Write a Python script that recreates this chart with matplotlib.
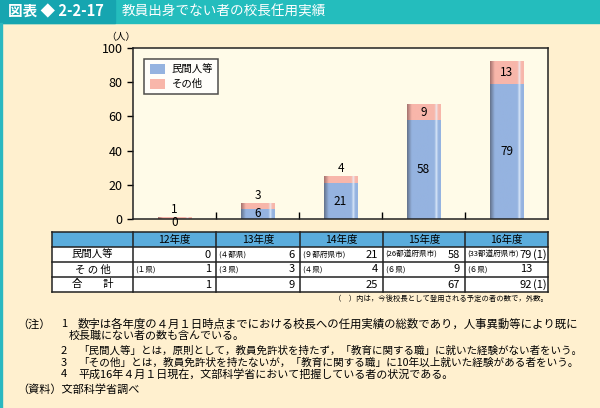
import matplotlib.pyplot as plt
import matplotlib.patches as mpatches
import numpy as np

plt.rcParams['font.family'] = ['Noto Sans CJK JP', 'DejaVu Sans']

years = ['12年度', '13年度', '14年度', '15年度', '16年度']
private = [0, 6, 21, 58, 79]
other = [1, 3, 4, 9, 13]
total = [1, 9, 25, 67, 92]
private_pref = ['', '(４都県)', '(９都府県市)', '(26都道府県市)', '(33都道府県市)']
other_pref = ['(１県)', '(３県)', '(４県)', '(６県)', '(６県)']
extra = ['', '', '', '', '(1)']
row_names = ['民間人等', 'そ の 他', '合　　計']
notes = [
    ('（注）', '1', '数字は各年度の４月１日時点までにおける校長への任用実績の総数であり，人事異動等により既に'),
    ('', '', '校長職にない者の数も含んでいる。'),
    ('', '2', '「民間人等」とは，原則として，教員免許状を持たず，「教育に関する職」に就いた経験がない者をいう。'),
    ('', '3', '「その他」とは，教員免許状を持たないが，「教育に関する職」に10年以上就いた経験がある者をいう。'),
    ('', '4', '平成16年４月１日現在，文部科学省において把握している者の状況である。'),
]
source = '（資料）文部科学省調べ'

W, H = 600, 408
fig = plt.figure(figsize=(W / 100, H / 100), dpi=100)
fig.patch.set_facecolor('#FFF0CF')

# pixel overlay
bg = fig.add_axes([0, 0, 1, 1])
bg.set_xlim(0, W)
bg.set_ylim(H, 0)
bg.axis('off')

bg.add_patch(mpatches.Rectangle((0, 0), W, 23, color='#24BDBD', zorder=1))
bg.add_patch(mpatches.Rectangle((0, 0), 115, 23, color='#16A5B0', zorder=2))
bg.add_patch(mpatches.Rectangle((0, 23), 2, H, color='#2AB8C0', zorder=2))
bg.text(8, 11.5, '図表 ◆ 2-2-17', color='white', fontsize=10.5, fontweight='bold',
        va='center', ha='left', zorder=3)
bg.text(122, 11.5, '教員出身でない者の校長任用実績', color='white', fontsize=9.8,
        va='center', ha='left', zorder=3)
bg.text(106, 37, '（人）', fontsize=7, va='center', ha='left')

# chart
ax_l, ax_r, ax_t, ax_b = 133, 548, 48, 219
ax = fig.add_axes([ax_l / W, 1 - ax_b / H, (ax_r - ax_l) / W, (ax_b - ax_t) / H])
ax.set_facecolor('#FFFBE8')
x = np.arange(len(years))
bw = 0.4
blue = np.array([149, 179, 224]) / 255
pink = np.array([248, 182, 170]) / 255
b1 = ax.bar(x, private, bw, color=blue, zorder=2)
b2 = ax.bar(x, other, bw, bottom=private, color=pink, zorder=2)


def shade(patch, base, dark):
    x0, y0 = patch.get_x(), patch.get_y()
    w, h = patch.get_width(), patch.get_height()
    if h <= 0:
        return
    t = np.linspace(0, 1, 80)
    dk = np.clip(1 - t / 0.14, 0, 1)
    hl = np.exp(-((t - 0.87) / 0.035) ** 2)
    col = base[None, :] * (1 - dk[:, None]) + dark[None, :] * dk[:, None]
    col = col * (1 - 0.75 * hl[:, None]) + np.array([0.92, 0.96, 1.0])[None, :] * 0.75 * hl[:, None]
    img = np.repeat(col[None, :, :], 2, axis=0)
    ax.imshow(img, extent=[x0, x0 + w, y0, y0 + h], aspect='auto', zorder=2.5,
              interpolation='bilinear')


for p in b1:
    shade(p, blue, np.array([100, 115, 140]) / 255)
for p in b2:
    shade(p, pink, np.array([165, 115, 110]) / 255)

for i in range(len(years)):
    if private[i] >= 5:
        ax.text(x[i], private[i] / 2, str(private[i]), ha='center', va='center',
                fontsize=8.5, zorder=4)
    else:
        ax.text(x[i], -2.2, str(private[i]), ha='center', va='center', fontsize=8.5,
                zorder=4, clip_on=False)
    if other[i] >= 8:
        ax.text(x[i], private[i] + other[i] / 2, str(other[i]), ha='center',
                va='center', fontsize=8.5, zorder=4)
    else:
        ax.text(x[i], total[i] + 1.0, str(other[i]), ha='center', va='bottom',
                fontsize=8.5, zorder=4)

ax.set_xlim(-0.5, len(years) - 0.5)
ax.set_ylim(0, 100)
ax.set_yticks(range(0, 101, 20))
ax.tick_params(axis='y', direction='out', length=4, labelsize=9, width=1)
ax.set_xticks(x[:-1] + 0.5)
ax.set_xticklabels([])
ax.tick_params(axis='x', direction='in', length=5, width=1)
for s in ax.spines.values():
    s.set_linewidth(1.1)
    s.set_color('#222222')

leg = ax.legend([b1, b2], ['民間人等', 'その他'], loc='upper left',
                bbox_to_anchor=(0.015, 0.965), fontsize=7.5, frameon=True,
                fancybox=False, edgecolor='#222222', handlelength=1.5,
                handleheight=1.1, borderpad=0.5, labelspacing=0.35,
                handletextpad=0.6)
leg.get_frame().set_linewidth(1.1)
leg.get_frame().set_facecolor('white')

# table
tl, tr = 52, 548
col_edges = [tl, 133, 216, 300, 383, 465, 548]
row_edges = [232, 247, 262, 277, 292]
bg.add_patch(mpatches.Rectangle((tl, row_edges[0]), tr - tl, row_edges[1] - row_edges[0],
                                facecolor='#5AACDC', edgecolor='none', zorder=2))
bg.add_patch(mpatches.Rectangle((tl, row_edges[1]), tr - tl, row_edges[-1] - row_edges[1],
                                facecolor='white', edgecolor='none', zorder=2))
for xe in col_edges:
    bg.plot([xe, xe], [row_edges[0], row_edges[-1]], color='#222222', lw=1.1, zorder=3)
for ye in row_edges:
    bg.plot([tl, tr], [ye, ye], color='#222222', lw=1.1, zorder=3)

for j, yname in enumerate(years):
    cx = (col_edges[j + 1] + col_edges[j + 2]) / 2
    bg.text(cx, (row_edges[0] + row_edges[1]) / 2, yname, ha='center', va='center',
            fontsize=7.5, zorder=4)

rows = [(private, private_pref), (other, other_pref), (total, [''] * 5)]
for r, (vals, prefs) in enumerate(rows):
    yc = (row_edges[r + 1] + row_edges[r + 2]) / 2
    bg.text((col_edges[0] + col_edges[1]) / 2, yc, row_names[r], ha='center',
            va='center', fontsize=7.5, zorder=4)
    for j in range(len(years)):
        left = col_edges[j + 1]
        right = col_edges[j + 2]
        if prefs[j]:
            bg.text(left + 2, yc, prefs[j], ha='left', va='center', fontsize=5.5, zorder=4)
        rx = right - 5
        if j == len(years) - 1:
            rx = right - 16
            if r != 1:
                bg.text(rx + 0.5, yc, extra[j], ha='left', va='center', fontsize=8, zorder=4)
        bg.text(rx, yc, str(vals[j]), ha='right', va='center', fontsize=8, zorder=4)

bg.text(548, 299, '（　）内は，今後校長として登用される予定の者の数で，外数。',
        ha='right', va='center', fontsize=5.3, zorder=4)

# notes: each line scaled so its right end lands where the reference's does
renderer = fig.canvas.get_renderer()


def fit_text(x0, y0, s, right, size=8):
    t = bg.text(x0, y0, s, ha='left', va='center', fontsize=size)
    w = t.get_window_extent(renderer).width
    t.set_fontsize(min(size * (right - x0) / w, 8.6))
    return t


ys = [324, 336, 351, 363, 374]
ends = [580, 245, 583, 580, 456]
for (a, b, c), yy, e in zip(notes, ys, ends):
    if a:
        bg.text(17, yy, a, ha='left', va='center', fontsize=8)
    if b:
        bg.text(61, yy, b, ha='left', va='center', fontsize=8)
        fit_text(78, yy, c, e)
    else:
        fit_text(69, yy, c, e)
bg.text(17, 390, source, ha='left', va='center', fontsize=8)

fig.savefig('out.png', dpi=100, facecolor=fig.get_facecolor())
